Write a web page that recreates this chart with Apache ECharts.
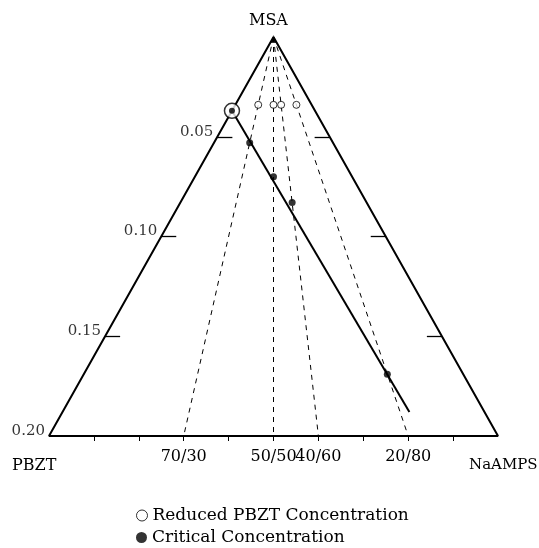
<!DOCTYPE html>
<html>
<head>
<meta charset="utf-8">
<script src="https://cdn.jsdelivr.net/npm/echarts@6/dist/echarts.min.js"></script>
<style>html,body{margin:0;padding:0;background:#fff;}#c{width:539px;height:548px;}</style>
</head>
<body>
<div id="c"></div>
<script>
// ---- data ----
const ratioLabels = ['70/30', '50/50', '40/60', '20/80'];   // PBZT/NaAMPS
const ratios = [0.3, 0.5, 0.6, 0.8];                        // NaAMPS share of polymer
const reducedConc = [0.034, 0.034, 0.034, 0.034];           // open circles
const criticalConc = [0.053, 0.070, 0.083, 0.169];          // filled circles
const pureRatio = 0.0, pureConc = 0.037;                    // circled point (pure PBZT)
const lineEndRatio = 0.822, lineEndConc = 0.188;            // end of solid line
const concTicks = [0.05, 0.10, 0.15, 0.20];
const baseTicks = [0.1, 0.2, 0.3, 0.4, 0.5, 0.6, 0.7, 0.8, 0.9];
const legendNames = ['Reduced PBZT Concentration', 'Critical Concentration'];
const MAXC = 0.20;

// ternary projection: ratio along base, concentration downward from apex
function proj(r, c) { return [0.5 + (r - 0.5) * c / MAXC, c]; }

const GL = 49, GR = 41, GT = 37, GB = 112;
const plotW = 539 - GL - GR;
const tickU = 15 / plotW;
const serif = 'DejaVu Serif';

const chart = echarts.init(document.getElementById('c'));

const dashedLines = ratios.map(r => ({ coords: [proj(r, 0), proj(r, MAXC)] }));
const leftTicks = concTicks.filter(v => v < MAXC).map(v => {
  const p = proj(0, v); return { coords: [p, [p[0] + tickU, v]] };
});
const rightTicks = concTicks.filter(v => v < MAXC).map(v => {
  const p = proj(1, v); return { coords: [p, [p[0] - tickU, v]] };
});

const legendText = { fontFamily: serif, fontSize: 17, color: '#000' };

chart.setOption({
  animation: false,
  backgroundColor: '#fff',
  grid: { left: GL, right: GR, top: GT, bottom: GB },
  xAxis: {
    type: 'value', min: 0, max: 1, position: 'bottom',
    axisLine: { show: false, onZero: false },
    splitLine: { show: false },
    axisTick: { show: true, customValues: baseTicks, length: 5, lineStyle: { color: '#000', width: 1 } },
    axisLabel: {
      show: true, customValues: ratios, margin: 13,
      fontFamily: serif, fontSize: 16, color: '#000',
      formatter: v => { const i = ratios.findIndex(r => Math.abs(r - v) < 1e-6); return i >= 0 ? ratioLabels[i] : ''; }
    }
  },
  yAxis: { type: 'value', min: 0, max: MAXC, inverse: true, show: false },
  legend: [
    { left: 131, top: 502, itemWidth: 11, itemHeight: 11, itemGap: 5, textStyle: legendText,
      data: [{ name: legendNames[0], icon: 'circle', itemStyle: { color: '#fff', borderColor: '#000', borderWidth: 1 } }] },
    { left: 131, top: 524, itemWidth: 11, itemHeight: 11, itemGap: 5, textStyle: legendText,
      data: [{ name: legendNames[1], icon: 'circle', itemStyle: { color: '#000' } }] }
  ],
  graphic: [
    { type: 'text', left: 249, top: 13, style: { text: 'MSA', font: '16px "DejaVu Serif"', fill: '#000' } },
    { type: 'text', left: 12, top: 458, style: { text: 'PBZT', font: '16px "DejaVu Serif"', fill: '#000' } },
    { type: 'text', left: 469, top: 458, style: { text: 'NaAMPS', font: '15px "DejaVu Serif"', fill: '#000' } }
  ],
  series: [
    { type: 'line', data: [proj(0.5, 0), proj(0, MAXC), proj(1, MAXC), proj(0.5, 0)],
      symbol: 'none', clip: false, lineStyle: { color: '#000', width: 2 }, silent: true },
    { type: 'lines', coordinateSystem: 'cartesian2d', data: dashedLines, clip: false,
      lineStyle: { color: '#000', width: 1, type: [5, 5], opacity: 1 } },
    { type: 'lines', coordinateSystem: 'cartesian2d', data: leftTicks.concat(rightTicks), clip: false,
      lineStyle: { color: '#000', width: 1.3, opacity: 1 } },
    { type: 'lines', coordinateSystem: 'cartesian2d', clip: false,
      data: [{ coords: [proj(pureRatio, pureConc), proj(lineEndRatio, lineEndConc)] }],
      lineStyle: { color: '#000', width: 2, opacity: 1 } },
    { type: 'scatter', symbol: 'triangle', symbolSize: [6, 8], data: [proj(0.5, 0)],
      itemStyle: { color: '#000' }, clip: false, symbolOffset: [0, 2] },
    { name: legendNames[0], type: 'scatter', symbol: 'circle', symbolSize: 7,
      data: ratios.map((r, i) => proj(r, reducedConc[i])),
      itemStyle: { color: '#fff', borderColor: '#000', borderWidth: 1 } },
    { name: legendNames[1], type: 'scatter', symbol: 'circle', symbolSize: 7,
      data: ratios.map((r, i) => proj(r, criticalConc[i])),
      itemStyle: { color: '#000' } },
    { type: 'scatter', symbol: 'circle', symbolSize: 15, data: [proj(pureRatio, pureConc)],
      itemStyle: { color: '#fff', borderColor: '#000', borderWidth: 1.5 }, z: 5 },
    { type: 'scatter', symbol: 'circle', symbolSize: 6, data: [proj(pureRatio, pureConc)],
      itemStyle: { color: '#000' }, z: 6 },
    { type: 'scatter', symbolSize: 0, clip: false,
      data: concTicks.map(v => ({ value: proj(0, v), label: { formatter: v.toFixed(2) } })),
      label: { show: true, position: 'left', distance: 4, offset: [0, -5],
        fontFamily: serif, fontSize: 15, color: '#000' } }
  ]
});
</script>
</body>
</html>
